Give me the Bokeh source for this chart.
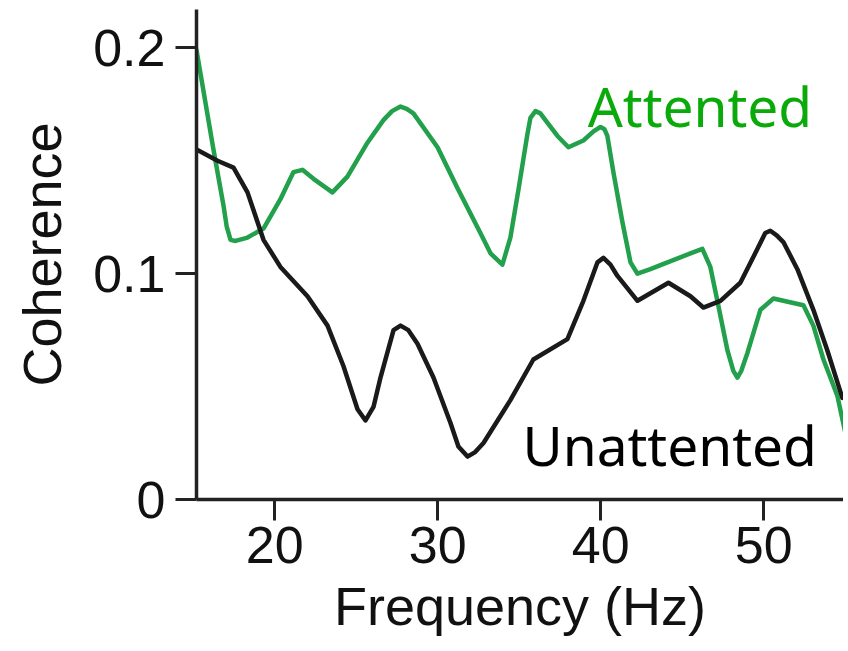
from bokeh.plotting import figure
from bokeh.models import Range1d, FixedTicker, ColumnDataSource
from bokeh.core.properties import value
from bokeh.embed import file_html
from bokeh.resources import INLINE

# ---- data ----
freq_attended = [15.20, 16.24, 16.86, 17.05, 17.29, 17.60, 18.33, 19.31, 20.35, 21.15,
                 21.70, 22.38, 23.54, 24.46, 25.69, 26.67, 27.20, 27.72, 28.10, 28.51,
                 29.99, 31.21, 32.62, 33.24, 33.97, 34.46, 34.95, 35.51, 35.69, 36.00,
                 36.30, 36.61, 37.35, 38.02, 38.94, 39.56, 39.99, 40.23, 40.41, 40.78,
                 41.33, 41.83, 42.26, 43.05, 44.10, 45.51, 46.24, 46.73, 47.16, 47.78,
                 48.14, 48.39, 48.63, 49.01, 49.80, 50.60, 52.44, 53.05, 53.67, 54.52,
                 55.00]
coh_attended = [0.199, 0.155, 0.130, 0.121, 0.115, 0.1145, 0.116, 0.120, 0.133, 0.145,
                0.146, 0.142, 0.136, 0.143, 0.158, 0.168, 0.172, 0.174, 0.173, 0.171,
                0.156, 0.138, 0.118, 0.109, 0.104, 0.116, 0.137, 0.162, 0.169, 0.172,
                0.171, 0.168, 0.161, 0.156, 0.159, 0.163, 0.165, 0.164, 0.161, 0.145,
                0.123, 0.105, 0.100, 0.102, 0.105, 0.109, 0.111, 0.103, 0.088, 0.066,
                0.057, 0.054, 0.057, 0.065, 0.084, 0.089, 0.086, 0.077, 0.062, 0.046,
                0.030]

freq_unattended = [15.20, 16.49, 17.47, 18.33, 19.31, 20.35, 22.01, 23.24, 24.22, 25.08,
                   25.57, 26.06, 26.49, 27.29, 27.72, 28.20, 28.76, 29.74, 30.78, 31.27,
                   31.83, 32.30, 32.81, 33.85, 34.46, 35.87, 37.96, 38.94, 39.80, 40.17,
                   40.60, 41.03, 42.26, 44.16, 45.51, 46.30, 47.35, 48.57, 49.62, 50.10,
                   50.41, 50.80, 51.21, 52.07, 53.05, 53.91, 54.83]
coh_unattended = [0.155, 0.150, 0.147, 0.136, 0.115, 0.103, 0.090, 0.077, 0.059, 0.040,
                  0.035, 0.041, 0.054, 0.075, 0.077, 0.075, 0.069, 0.054, 0.034, 0.0235,
                  0.019, 0.021, 0.025, 0.037, 0.044, 0.062, 0.071, 0.088, 0.105, 0.107,
                  0.104, 0.099, 0.088, 0.096, 0.090, 0.085, 0.088, 0.096, 0.111, 0.118,
                  0.119, 0.117, 0.114, 0.102, 0.084, 0.066, 0.045]

x_ticks = [20, 30, 40, 50]
y_ticks = [0, 0.1, 0.2]
y_tick_labels = ["0", "0.1", "0.2"]

label_texts = ["Attented", "Unattented"]
label_x = [39.2, 35.2]
label_y = [0.1745, 0.0245]
label_colors = ["#0aaa0a", "#000000"]

GREEN = "#22a04c"
BLACK = "#1a1a1a"
AXIS = "#222222"
FONT = "Liberation Sans"

p = figure(width=843, height=640, output_backend="svg", toolbar_location=None,
           x_range=Range1d(15.2, 54.9), y_range=Range1d(0, 0.217),
           min_border_left=196, min_border_right=0, min_border_top=9,
           min_border_bottom=141)

p.grid.visible = False
p.outline_line_color = None
p.background_fill_color = "white"
p.border_fill_color = "white"

p.line(freq_attended, coh_attended, line_color=GREEN, line_width=4.5,
       line_join="round", line_cap="round")
p.line(freq_unattended, coh_unattended, line_color=BLACK, line_width=4.5,
       line_join="round", line_cap="round")

src = ColumnDataSource(dict(x=label_x, y=label_y, t=label_texts, c=label_colors))
p.text(x="x", y="y", text="t", text_color="c", source=src,
       text_font=value("Noto Sans"), text_font_size="55px",
       text_align="left", text_baseline="alphabetic")

for ax in (p.xaxis[0], p.yaxis[0]):
    ax.axis_line_width = 3.5
    ax.axis_line_color = AXIS
    ax.major_tick_line_width = 3
    ax.major_tick_line_color = AXIS
    ax.major_tick_out = 21
    ax.major_tick_in = 0
    ax.minor_tick_line_color = None
    ax.major_label_text_font = FONT
    ax.major_label_text_font_size = "52px"
    ax.major_label_text_color = "#111111"
    ax.axis_label_text_font = FONT
    ax.axis_label_text_font_size = "54px"
    ax.axis_label_text_font_style = "normal"
    ax.axis_label_text_color = "#111111"

p.xaxis.ticker = FixedTicker(ticks=x_ticks)
p.yaxis.ticker = FixedTicker(ticks=y_ticks)
p.yaxis.major_label_overrides = {t: s for t, s in zip(y_ticks, y_tick_labels)}
p.xaxis.axis_label = "Frequency (Hz)"
p.yaxis.axis_label = "Coherence"
p.xaxis.major_label_standoff = 6
p.yaxis.major_label_standoff = 10
p.xaxis.axis_label_standoff = 10
p.yaxis.axis_label_standoff = 18

open("out.html", "w").write(file_html(p, INLINE))
